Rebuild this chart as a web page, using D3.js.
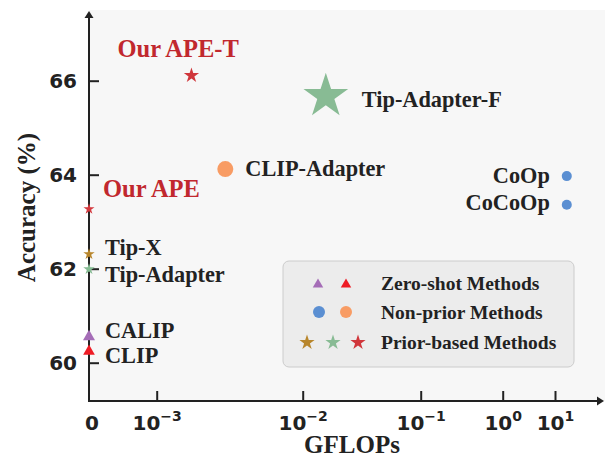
<!DOCTYPE html>
<html><head><meta charset="utf-8">
<script src="https://cdn.jsdelivr.net/npm/d3@7"></script>
<style>body{margin:0;background:#fff;} svg{display:block;}</style>
</head><body>
<svg id="chart" width="605" height="457"></svg>
<script>
// ---- data ----
const methods  = ["CLIP","CALIP","Tip-Adapter","Tip-X","Our APE","Our APE-T","Tip-Adapter-F","CLIP-Adapter","CoOp","CoCoOp"];
const gflops   = [0, 0, 0, 0, 0, 0.00173, 0.0157, 0.00295, 16.8, 16.8];
const accuracy = [60.28, 60.59, 61.99, 62.31, 63.27, 66.11, 65.67, 64.12, 63.97, 63.36];
const groups   = ["zero","zero","prior","prior","prior","prior","prior","nonprior","nonprior","nonprior"];
const yTicks   = [60, 62, 64, 66];
const xTickExp = [-3, -2, -1, 0, 1];
const legendLabels = ["Zero-shot Methods", "Non-prior Methods", "Prior-based Methods"];

// ---- styles (not data) ----
const style = {
  "CLIP":          {shape:"tri",    size:11.7, color:"#ee1c25", lab:[16,13],  anchor:"start", red:false},
  "CALIP":         {shape:"tri",    size:12,   color:"#a56db7", lab:[16,3],   anchor:"start", red:false},
  "Tip-Adapter":   {shape:"star",   size:6,    color:"#84bb92", lab:[16,13],  anchor:"start", red:false},
  "Tip-X":         {shape:"star",   size:6,    color:"#b8862c", lab:[16,1],   anchor:"start", red:false},
  "Our APE":       {shape:"star",   size:5.8,  color:"#d43a3f", lab:[14,-12], anchor:"start", red:true},
  "Our APE-T":     {shape:"star",   size:8,    color:"#d0363b", lab:[-74,-19],anchor:"start", red:true},
  "Tip-Adapter-F": {shape:"star",   size:23.5, color:"#88bb94", lab:[36,11],  anchor:"start", red:false},
  "CLIP-Adapter":  {shape:"circle", size:8,    color:"#f89c64", lab:[20,7],   anchor:"start", red:false},
  "CoOp":          {shape:"circle", size:5,    color:"#5b8fd2", lab:[-17,7],  anchor:"end",   red:false},
  "CoCoOp":        {shape:"circle", size:5,    color:"#5b8fd2", lab:[-17,5],  anchor:"end",   red:false}
};
const serif = "'Liberation Serif','Times New Roman',serif";
const sans = "'DejaVu Sans',sans-serif";
const ink = "#222";
const redInk = "#c1282e";

const svg = d3.select("#chart");
const L = 89, T = 10, R = 605, B = 401;

// x: zero sits on the spine, then log-decades (non-uniform spacing as in the reference)
const zeroPos = -4;
const xs = d3.scaleLinear().domain([zeroPos, -3, -2, -1, 0, 1]).range([L, 156.7, 302.7, 420.7, 502.7, 555]);
const tx = v => v === 0 ? zeroPos : Math.log10(v);
const x = v => xs(tx(v));
const y = d3.scaleLinear().domain([60, 66]).range([362.7, 80.7]);

// background
svg.append("rect").attr("x", L).attr("y", T).attr("width", R - L).attr("height", B - T).attr("fill", "#f7f7f7");

// y axis
const gy = svg.append("g").attr("transform", `translate(${L},0)`)
  .call(d3.axisLeft(y).tickValues(yTicks).tickSizeInner(-10).tickSizeOuter(0).tickPadding(12).tickFormat(d3.format("d")));
gy.select(".domain").remove();
gy.selectAll(".tick line").attr("stroke", ink).attr("stroke-width", 2);
gy.selectAll(".tick text").attr("font-family", sans).attr("font-weight", "bold").attr("font-size", 20).attr("fill", ink);

// x axis
const gx = svg.append("g").attr("transform", `translate(0,${B})`)
  .call(d3.axisBottom(xs).tickValues([zeroPos].concat(xTickExp)).tickSizeInner(-10).tickSizeOuter(0).tickPadding(8).tickFormat(() => ""));
gx.select(".domain").remove();
gx.selectAll(".tick line").attr("stroke", ink).attr("stroke-width", 2)
  .attr("opacity", d => d === zeroPos ? 0 : 1);
gx.selectAll(".tick text").each(function(d) {
  const t = d3.select(this).attr("font-family", sans).attr("font-weight", "bold").attr("fill", ink)
    .attr("font-size", 20).attr("dy", null).attr("y", 29);
  if (d === zeroPos) { t.attr("x", 2.5).text("0"); return; }
  t.append("tspan").text("10");
  t.append("tspan").attr("font-size", 14).attr("dy", -9).text(d < 0 ? "\u2212" + (-d) : String(d));
});

// spines with arrows
svg.append("line").attr("x1", L).attr("x2", L).attr("y1", B + 1).attr("y2", 16).attr("stroke", ink).attr("stroke-width", 2);
svg.append("line").attr("x1", L - 1).attr("x2", R - 6).attr("y1", B).attr("y2", B).attr("stroke", ink).attr("stroke-width", 2);
svg.append("path").attr("d", `M${L},11 L${L - 4.5},18 L${L + 4.5},18 Z`).attr("fill", ink);
svg.append("path").attr("d", `M${R - 1},${B} L${R - 8},${B - 4.5} L${R - 8},${B + 4.5} Z`).attr("fill", ink);

// axis titles
svg.append("text").attr("x", 352).attr("y", 453).attr("text-anchor", "middle")
  .attr("font-family", serif).attr("font-weight", "bold").attr("font-size", 25).attr("fill", ink).text("GFLOPs");
svg.append("text").attr("transform", "translate(35,207.5) rotate(-90)").attr("text-anchor", "middle")
  .attr("font-family", serif).attr("font-weight", "bold").attr("font-size", 25).attr("fill", ink).text("Accuracy (%)");

// marker shape helper
function shapePath(shape, s) {
  if (shape === "star") return d3.symbol(d3.symbolStar, s * s / 0.8908130915292852)();
  if (shape === "circle") return d3.symbol(d3.symbolCircle, Math.PI * s * s)();
  const w = s, h = s * 0.87;
  return `M0,${-h / 2}L${-w / 2},${h / 2}L${w / 2},${h / 2}Z`;
}

// points
const pts = methods.map((m, i) => ({name: m, gx: gflops[i], acc: accuracy[i], group: groups[i]}));
svg.append("g").selectAll("path").data(pts).join("path")
  .attr("transform", d => `translate(${x(d.gx)},${y(d.acc)})`)
  .attr("d", d => shapePath(style[d.name].shape, style[d.name].size))
  .attr("fill", d => style[d.name].color);

// labels
svg.append("g").selectAll("text").data(pts).join("text")
  .attr("x", d => x(d.gx) + style[d.name].lab[0])
  .attr("y", d => y(d.acc) + style[d.name].lab[1])
  .attr("text-anchor", d => style[d.name].anchor)
  .attr("font-family", serif).attr("font-weight", "bold")
  .attr("font-size", d => style[d.name].red ? 24.5 : 22.3)
  .attr("fill", d => style[d.name].red ? redInk : ink)
  .text(d => d.name);

// legend
const lg = svg.append("g");
lg.append("rect").attr("x", 283).attr("y", 261).attr("width", 291).attr("height", 106).attr("rx", 6)
  .attr("fill", "#ececec").attr("stroke", "#cccccc").attr("stroke-width", 1);
const legendMarkers = [
  [{shape:"tri", c:"#a56db7", x:318}, {shape:"tri", c:"#ee1c25", x:346}],
  [{shape:"circle", c:"#5b8fd2", x:319}, {shape:"circle", c:"#f89c64", x:346}],
  [{shape:"star", c:"#b8862c", x:307}, {shape:"star", c:"#88bb94", x:333}, {shape:"star", c:"#d0363b", x:358}]
];
const rowY = [283, 312, 342.5];
const legSize = {tri: 10.5, circle: 6, star: 8};
legendLabels.forEach((lab, r) => {
  legendMarkers[r].forEach(mk => {
    lg.append("path").attr("transform", `translate(${mk.x},${rowY[r]})`)
      .attr("d", shapePath(mk.shape, legSize[mk.shape])).attr("fill", mk.c);
  });
  lg.append("text").attr("x", 381).attr("y", rowY[r] + 6.5)
    .attr("font-family", serif).attr("font-weight", "bold").attr("font-size", 19.5).attr("fill", ink).text(lab);
});
</script>
</body></html>
